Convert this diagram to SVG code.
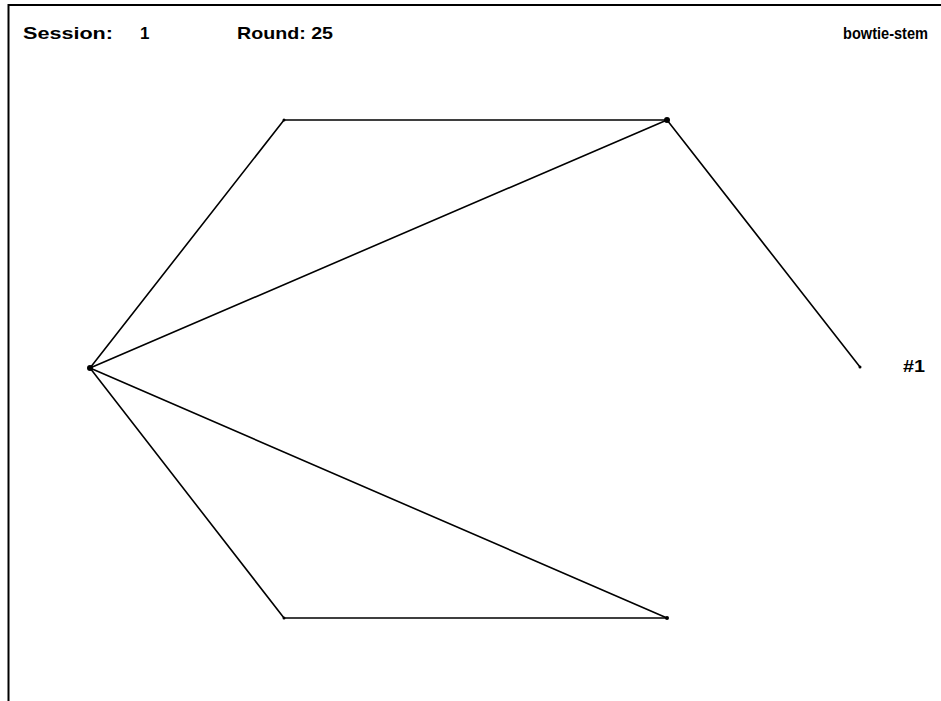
<svg xmlns="http://www.w3.org/2000/svg" width="941" height="701" viewBox="0 0 941 701">
<style>
.t{font-family:"Liberation Sans",Arial,sans-serif;font-weight:bold;font-size:17px;fill:#000}
.e{stroke:#000;stroke-width:1.6;fill:none;stroke-linecap:round}
.n{fill:#000}
</style>
<rect width="941" height="701" fill="#fff"/>
<path d="M8.5 701 V5 H941" stroke="#000" stroke-width="2" fill="none"/>
<text class="t" x="23" y="39" textLength="90" lengthAdjust="spacingAndGlyphs">Session:</text>
<text class="t" x="140" y="39">1</text>
<text class="t" x="237" y="39" textLength="96" lengthAdjust="spacingAndGlyphs">Round: 25</text>
<text class="t" x="843" y="39" textLength="85" lengthAdjust="spacingAndGlyphs">bowtie-stem</text>
<g id="connectors">
<line class="e" x1="90" y1="368" x2="284" y2="120"/>
<line class="e" x1="284" y1="120" x2="667" y2="120"/>
<line class="e" x1="90" y1="368" x2="667" y2="120"/>
<line class="e" x1="667" y1="120" x2="860" y2="367"/>
<line class="e" x1="90" y1="368" x2="284" y2="618"/>
<line class="e" x1="284" y1="618" x2="667" y2="618"/>
<line class="e" x1="90" y1="368" x2="667" y2="618"/>
</g>
<g id="n-left"><circle class="n" cx="90" cy="368" r="3"/></g>
<g id="n-tl"><circle class="n" cx="284" cy="120" r="1.5"/></g>
<g id="n-tr"><circle class="n" cx="667" cy="120" r="3"/></g>
<g id="n-stem"><circle class="n" cx="860" cy="367" r="1.5"/><text class="t" x="903" y="372" textLength="22" lengthAdjust="spacingAndGlyphs">#1</text></g>
<g id="n-bl"><circle class="n" cx="284" cy="618" r="1.5"/></g>
<g id="n-br"><circle class="n" cx="667" cy="618" r="2"/></g>
</svg>
